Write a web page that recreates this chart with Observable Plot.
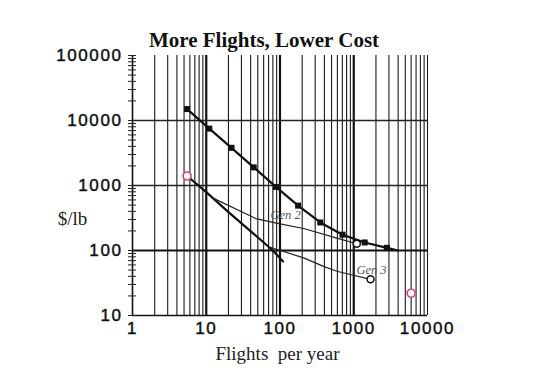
<!DOCTYPE html>
<html><head><meta charset="utf-8">
<script src="https://cdn.jsdelivr.net/npm/d3@7"></script>
<script src="https://cdn.jsdelivr.net/npm/@observablehq/plot@0.6"></script>
<style>
body{margin:0;background:#fff;}
#chart{width:544px;height:373px;}
g[aria-label="x-axis tick label"] text, g[aria-label="y-axis tick label"] text{letter-spacing:1.6px;stroke:#111;stroke-width:0.45px;}
</style></head><body><div id="chart"></div>
<script>
// Main curve (black squares): flights per year vs $/lb
const flights = [5.5, 11, 22, 44, 88, 176, 352, 704, 1408, 2816];
const costPerLb = [15000, 7500, 3800, 1900, 950, 490, 270, 175, 133, 110];
// unmarked tail of the main curve
const mainTailX = [4000];
const mainTailY = [100];
// Gen 1 (thick line from pink circle)
const gen1X = [5.5, 10, 20, 44, 80, 110];
const gen1Y = [1400, 790, 390, 180, 100, 68];
// Gen 2
const gen2X = [12, 47, 100, 209, 590, 1100];
const gen2Y = [650, 310, 257, 218, 155, 127];
// Gen 3
const gen3X = [74, 209, 390, 590, 1690];
const gen3Y = [112, 77, 57, 48, 36];
// open circle end points
const openX = [1100, 1690];
const openY = [127, 36];
// pink circles
const pinkX = [5.5, 6000];
const pinkY = [1400, 22];
// series labels
const genLabels = ["Gen 2", "Gen 3"];
const genLabelX = [119, 1740];
const genLabelY = [350, 51];
// ticks
const xTicks = [1, 10, 100, 1000, 10000];
const xTickLabels = ["1", "10", "100", "1000", "10000"];
const yTicks = [10, 100, 1000, 10000, 100000];
const yTickLabels = ["10", "100", "1000", "10000", "100000"];
const title = "More Flights, Lower Cost";
const xLabel = "Flights\u00a0 per year";
const yLabel = "$/lb";

const decadesX = [1, 10, 100, 1000];
const xGridMinor = decadesX.flatMap(d => [2,3,4,5,6,7,8,9].map(k => d * k)).concat([10000]);
const xGridMajor = [10, 100, 1000];
const yMinorTicks = [10, 100, 1000, 10000].flatMap(d => [1,2,3,4,5,6,7,8,9].map(k => d * k)).concat([100000]);

const mainX = flights.concat(mainTailX);
const mainY = costPerLb.concat(mainTailY);

const serif = "Liberation Serif, Times New Roman, serif";
const sans = "Liberation Sans, Arial, sans-serif";

const plot = Plot.plot({
  width: 544, height: 373,
  marginLeft: 132, marginRight: 117, marginTop: 55, marginBottom: 58,
  x: {type: "log", domain: [1, 10000]},
  y: {type: "log", domain: [10, 100000]},
  style: {background: "white", color: "black"},
  marks: [
    Plot.ruleX(xGridMinor, {stroke: "#1a1a1a", strokeWidth: 1.1}),
    Plot.ruleX(xGridMajor, {stroke: "#111", strokeWidth: 2.2}),
    Plot.ruleY([1000, 10000], {stroke: "#222", strokeWidth: 1.3}),
    Plot.ruleY([100], {stroke: "#111", strokeWidth: 2.2}),
    Plot.ruleX([1], {stroke: "#111", strokeWidth: 1.6}),
    Plot.ruleY([10], {stroke: "#111", strokeWidth: 1.6}),
    Plot.axisY({ticks: yMinorTicks, tickSize: 8, dx: 4, tickFormat: () => "", label: null, stroke: "#222"}),
    Plot.axisY({ticks: yTicks, tickSize: 0, tickPadding: 10, tickFormat: d => yTickLabels[yTicks.indexOf(d)], label: null, fontSize: 17, fontFamily: sans, fill: "#111"}),
    Plot.axisX({ticks: xTicks, tickSize: 0, tickPadding: 6, tickFormat: d => xTickLabels[xTicks.indexOf(d)], label: null, fontSize: 17, fontFamily: sans, fill: "#111"}),
    Plot.line(mainX, {x: mainX, y: mainY, stroke: "#111", strokeWidth: 2.2}),
    Plot.line(gen1X, {x: gen1X, y: gen1Y, stroke: "#111", strokeWidth: 2.2}),
    Plot.line(gen2X, {x: gen2X, y: gen2Y, stroke: "#222", strokeWidth: 1.2}),
    Plot.line(gen3X, {x: gen3X, y: gen3Y, stroke: "#222", strokeWidth: 1.2}),
    Plot.dot(flights, {x: flights, y: costPerLb, symbol: "square", r: 3.4, fill: "#111", stroke: null}),
    Plot.dot(openX, {x: openX, y: openY, r: 3.5, fill: "white", stroke: "#111", strokeWidth: 1.5}),
    Plot.dot(pinkX, {x: pinkX, y: pinkY, r: 4, fill: "white", stroke: "#d6457f", strokeWidth: 1.7}),
    Plot.text(genLabels, {x: genLabelX, y: genLabelY, text: genLabels, fontFamily: serif, fontStyle: "italic", fontSize: 12.5, fill: "#555"}),
    Plot.text([title], {frameAnchor: "top", text: d => d, dx: -16, dy: -9, lineAnchor: "bottom", fontFamily: serif, fontWeight: "bold", fontSize: 21, fill: "#111"}),
    Plot.text([yLabel], {frameAnchor: "left", text: d => d, dx: -60, dy: 39, textAnchor: "middle", lineAnchor: "bottom", fontFamily: serif, fontSize: 19, fill: "#222"}),
    Plot.text([xLabel], {frameAnchor: "bottom", text: d => d, dx: -2.5, dy: 44, lineAnchor: "bottom", fontFamily: serif, fontSize: 19, fill: "#222"})
  ]
});
document.getElementById("chart").append(plot);
</script></body></html>
